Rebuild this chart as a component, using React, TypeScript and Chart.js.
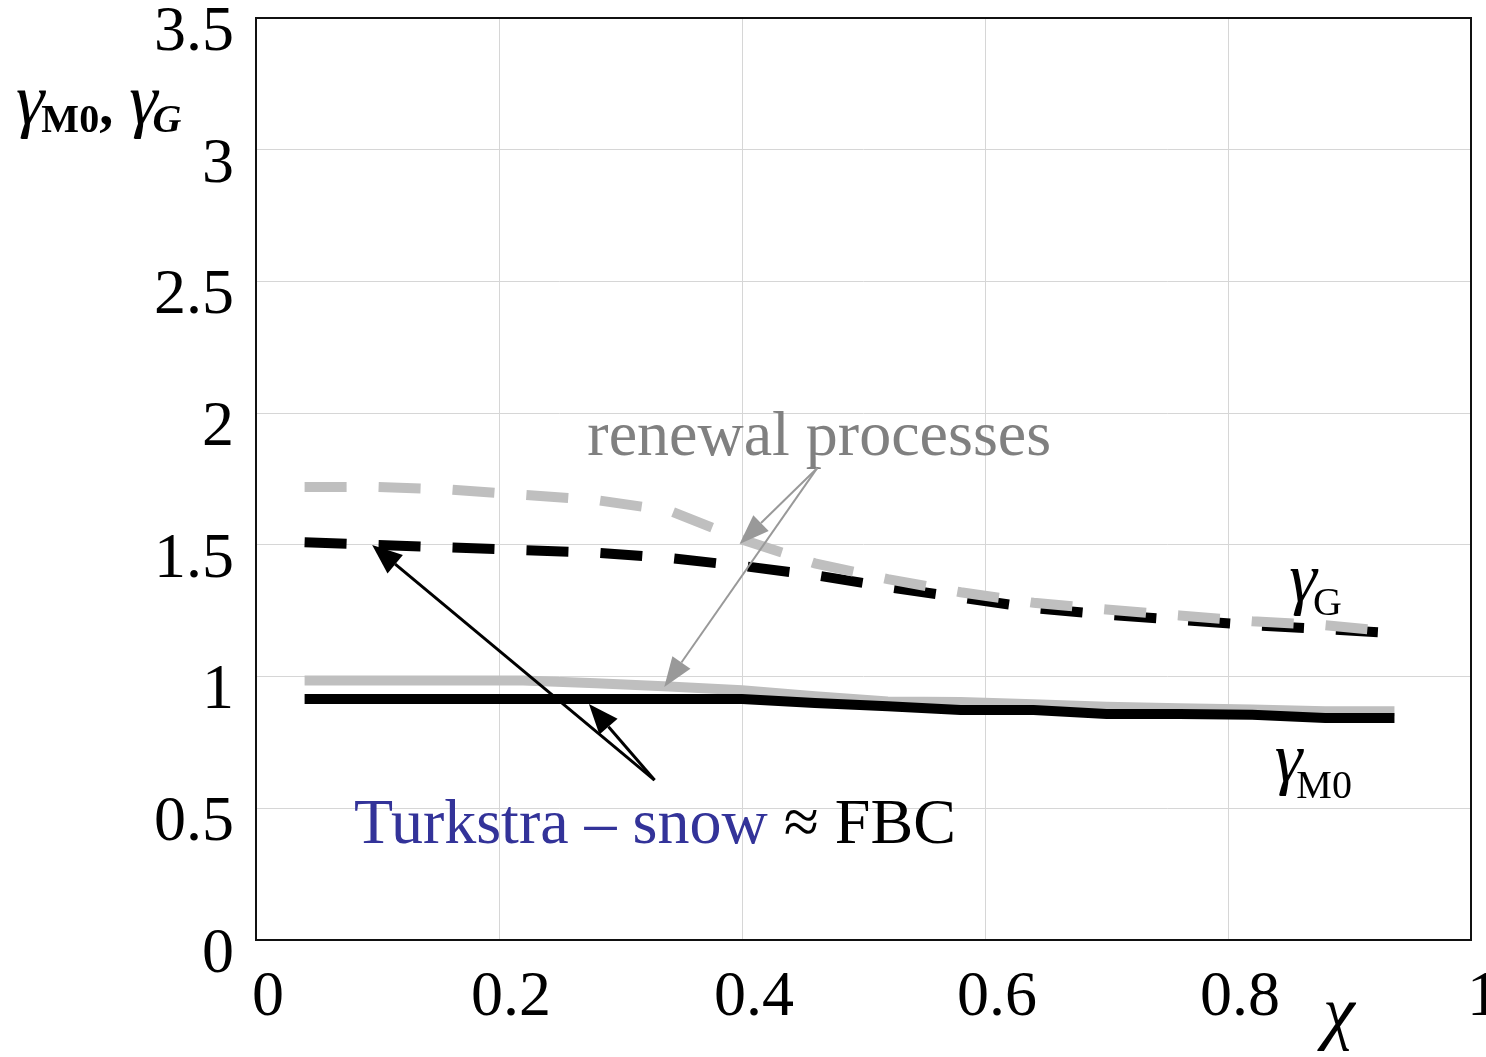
import React, { useEffect, useRef } from "react";
import { Chart, registerables } from "chart.js";

Chart.register(...registerables);

// ---- data ----
const chiValues = [0.04, 0.1, 0.16, 0.22, 0.28, 0.34, 0.4, 0.46, 0.52, 0.58, 0.64, 0.7, 0.76, 0.82, 0.88, 0.937];
const gammaGRenewal = [1.72, 1.72, 1.71, 1.69, 1.67, 1.63, 1.52, 1.43, 1.37, 1.32, 1.28, 1.255, 1.232, 1.21, 1.195, 1.17];
const gammaGTurkstra = [1.51, 1.5, 1.49, 1.48, 1.47, 1.45, 1.42, 1.385, 1.34, 1.3, 1.26, 1.235, 1.215, 1.195, 1.18, 1.165];
const gammaM0Renewal = [0.985, 0.985, 0.985, 0.985, 0.975, 0.962, 0.948, 0.925, 0.905, 0.903, 0.895, 0.885, 0.88, 0.875, 0.868, 0.868];
const gammaM0Turkstra = [0.915, 0.915, 0.915, 0.915, 0.915, 0.915, 0.915, 0.9, 0.887, 0.873, 0.873, 0.858, 0.858, 0.855, 0.843, 0.843];

const xMin = 0;
const xMax = 1;
const xStep = 0.2;
const yMin = 0;
const yMax = 3.5;
const yStep = 0.5;

// annotation anchors in data units
const renewalLabelAt = [0.2727, 1.84];
const turkstraLabelAt = [0.0807, 0.368];
const greyArrowFrom = [0.462, 1.792];
const greyArrowTo = [[0.398, 1.503], [0.336, 0.96]];
const blackArrowFrom = [0.328, 0.607];
const blackArrowTo = [[0.0956, 1.4995], [0.274, 0.896]];
const gammaGLabelAt = [0.8505, 1.287];
const gammaM0LabelAt = [0.8385, 0.604];

const SERIF = '"Liberation Serif", "Times New Roman", Times, serif';
const GREY = "#bfbfbf";

const toXY = (ys: number[]) => chiValues.map((x, i) => ({ x, y: ys[i] }));

function drawArrow(ctx: CanvasRenderingContext2D, x0: number, y0: number, x1: number, y1: number, color: string, lw: number, headLen: number, headW: number) {
  const ang = Math.atan2(y1 - y0, x1 - x0);
  const bx = x1 - headLen * Math.cos(ang);
  const by = y1 - headLen * Math.sin(ang);
  ctx.save();
  ctx.strokeStyle = color;
  ctx.lineWidth = lw;
  ctx.setLineDash([]);
  ctx.beginPath();
  ctx.moveTo(x0, y0);
  ctx.lineTo(bx, by);
  ctx.stroke();
  ctx.fillStyle = color;
  ctx.beginPath();
  ctx.moveTo(x1, y1);
  ctx.lineTo(bx + headW * Math.sin(ang), by - headW * Math.cos(ang));
  ctx.lineTo(bx - headW * Math.sin(ang), by + headW * Math.cos(ang));
  ctx.closePath();
  ctx.fill();
  ctx.restore();
}

const framePlugin = {
  id: "frame",
  afterDatasetsDraw(chart: any) {
    const { ctx, chartArea } = chart;
    ctx.save();
    ctx.strokeStyle = "#111";
    ctx.lineWidth = 2;
    ctx.setLineDash([]);
    ctx.strokeRect(chartArea.left, chartArea.top, chartArea.right - chartArea.left, chartArea.bottom - chartArea.top);
    ctx.restore();
  },
};

const annotationPlugin = {
  id: "annotations",
  afterDraw(chart: any) {
    const { ctx } = chart;
    const xs = chart.scales.x;
    const ys = chart.scales.y;
    const px = (p: number[]) => [xs.getPixelForValue(p[0]), ys.getPixelForValue(p[1])];
    ctx.save();
    ctx.textBaseline = "alphabetic";
    ctx.textAlign = "left";

    // renewal processes
    const [rx, ry] = px(renewalLabelAt);
    ctx.font = `64px ${SERIF}`;
    ctx.fillStyle = "#808080";
    ctx.fillText("renewal processes", rx, ry);

    // grey arrows
    const [gx0, gy0] = px(greyArrowFrom);
    greyArrowTo.forEach((t) => {
      const [tx, ty] = px(t);
      drawArrow(ctx, gx0, gy0, tx, ty, "#999999", 2, 30, 11);
    });

    // black arrows
    const [bx0, by0] = px(blackArrowFrom);
    blackArrowTo.forEach((t) => {
      const [tx, ty] = px(t);
      drawArrow(ctx, bx0, by0, tx, ty, "#000000", 3, 30, 12);
    });

    // Turkstra – snow ≈ FBC
    const [tx, ty] = px(turkstraLabelAt);
    ctx.font = `64px ${SERIF}`;
    ctx.fillStyle = "#333399";
    const part1 = "Turkstra \u2013 snow ";
    ctx.fillText(part1, tx, ty);
    const w1 = ctx.measureText(part1).width;
    ctx.fillStyle = "#000000";
    ctx.fillText("\u2248 FBC", tx + w1, ty);

    // gamma_G label
    ctx.fillStyle = "#000";
    const [ggx, ggy] = px(gammaGLabelAt);
    ctx.font = `italic 70px ${SERIF}`;
    ctx.fillText("\u03B3", ggx, ggy);
    const wg = ctx.measureText("\u03B3").width;
    ctx.font = `40px ${SERIF}`;
    ctx.fillText("G", ggx + wg - 4, ggy + 14);

    // gamma_M0 label
    const [gmx, gmy] = px(gammaM0LabelAt);
    ctx.font = `italic 70px ${SERIF}`;
    ctx.fillText("\u03B3", gmx, gmy);
    const wm = ctx.measureText("\u03B3").width;
    ctx.font = `40px ${SERIF}`;
    ctx.fillText("M0", gmx + wm - 6, gmy + 17);

    // y axis title: γM0, γG
    let cx = 16;
    const base = 124;
    ctx.font = `italic 72px ${SERIF}`;
    ctx.fillText("\u03B3", cx, base);
    cx += ctx.measureText("\u03B3").width - 3;
    ctx.font = `bold 40px ${SERIF}`;
    ctx.fillText("M0", cx, base + 8);
    cx += ctx.measureText("M0").width;
    ctx.font = `bold 56px ${SERIF}`;
    ctx.fillText(",", cx, base);
    cx += ctx.measureText(", ").width + 2;
    ctx.font = `italic 72px ${SERIF}`;
    ctx.fillText("\u03B3", cx, base);
    cx += ctx.measureText("\u03B3").width - 5;
    ctx.font = `italic bold 40px ${SERIF}`;
    ctx.fillText("G", cx, base + 8);

    // x axis title χ
    ctx.font = `italic 72px ${SERIF}`;
    ctx.fillText("\u03C7", 1323, 1036);

    ctx.restore();
  },
};

export default function App() {
  const canvasRef = useRef<HTMLCanvasElement | null>(null);

  useEffect(() => {
    document.body.style.margin = "0";
    const canvas = canvasRef.current;
    if (!canvas) return;
    const tickFont = { family: SERIF, size: 64 };
    const chart = new Chart(canvas, {
      type: "line",
      data: {
        datasets: [
          {
            label: "gammaG renewal",
            data: toXY(gammaGRenewal),
            borderColor: GREY,
            borderWidth: 10,
            borderDash: [42, 32],
            borderCapStyle: "butt",
            pointRadius: 0,
            tension: 0,
            order: 1,
          },
          {
            label: "gammaG Turkstra",
            data: toXY(gammaGTurkstra),
            borderColor: "#000",
            borderWidth: 10,
            borderDash: [42, 32],
            borderCapStyle: "butt",
            pointRadius: 0,
            tension: 0,
            order: 2,
          },
          {
            label: "gammaM0 Turkstra",
            data: toXY(gammaM0Turkstra),
            borderColor: "#000",
            borderWidth: 10,
            borderCapStyle: "butt",
            pointRadius: 0,
            tension: 0,
            order: 3,
          },
          {
            label: "gammaM0 renewal",
            data: toXY(gammaM0Renewal),
            borderColor: GREY,
            borderWidth: 10,
            borderCapStyle: "butt",
            pointRadius: 0,
            tension: 0,
            order: 4,
          },
        ],
      } as any,
      options: {
        animation: false,
        responsive: true,
        maintainAspectRatio: false,
        events: [],
        layout: { padding: { top: 18, right: 15, left: 0, bottom: 0 } },
        plugins: { legend: { display: false }, tooltip: { enabled: false } },
        scales: {
          x: {
            type: "linear",
            min: xMin,
            max: xMax,
            border: { display: false },
            grid: { color: "#d6d6d6", lineWidth: 1, drawTicks: false },
            ticks: {
              stepSize: xStep,
              font: tickFont,
              color: "#000",
              padding: 20,
              labelOffset: 12,
              maxRotation: 0,
              autoSkip: false,
              callback: (v: any) => String(Math.round(Number(v) * 10) / 10),
            },
            afterFit: (scale: any) => {
              scale.height = 117;
              scale.paddingLeft = 0;
              scale.paddingRight = 0;
              scale.paddingTop = 0;
              scale.paddingBottom = 0;
            },
          },
          y: {
            type: "linear",
            min: yMin,
            max: yMax,
            border: { display: false },
            grid: { color: "#d6d6d6", lineWidth: 1, drawTicks: false },
            ticks: {
              stepSize: yStep,
              font: tickFont,
              color: "#000",
              padding: 22,
              labelOffset: 15,
              autoSkip: false,
              callback: (v: any) => String(Math.round(Number(v) * 10) / 10),
            },
            afterFit: (scale: any) => {
              scale.width = 256;
              scale.paddingLeft = 0;
              scale.paddingRight = 0;
              scale.paddingTop = 0;
              scale.paddingBottom = 0;
            },
          },
        },
      } as any,
      plugins: [framePlugin, annotationPlugin],
    });
    return () => chart.destroy();
  }, []);

  return (
    <div style={{ position: "absolute", left: 0, top: 0, width: 1486, height: 1057, background: "#fff" }}>
      <canvas ref={canvasRef} />
    </div>
  );
}
